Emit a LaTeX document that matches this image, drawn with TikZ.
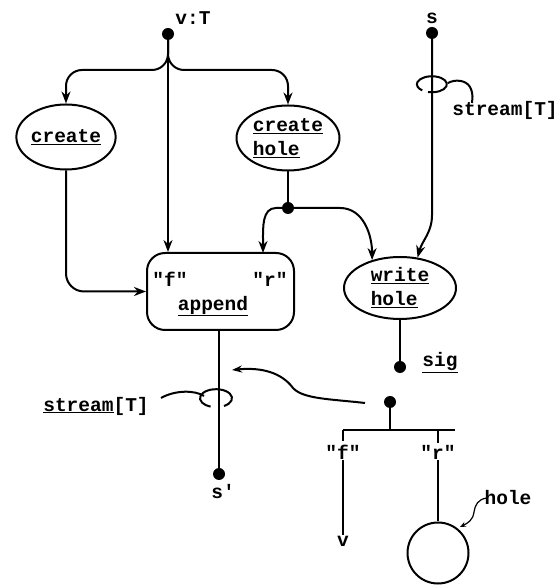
\documentclass[tikz,border=0pt]{standalone}
\usepackage{fontspec}
\setmonofont{Liberation Mono}
\usetikzlibrary{shapes.geometric,arrows.meta,calc}
\begin{document}
\begin{tikzpicture}[x=1pt,y=1pt,
  every node/.style={font=\fontsize{19.5}{24}\selectfont\ttfamily\bfseries},
  ln/.style={line width=2pt},
  arr/.style={ln,-{Stealth[length=12pt,width=9pt]}},
  dot/.style={circle,fill,inner sep=0pt,minimum size=12pt},
  oval/.style={ellipse,draw,line width=2pt,inner sep=0pt},
  txt/.style={inner sep=1pt}
]
\useasboundingbox (0,0) rectangle (557,585);
% nodes
\node[dot] (vdot) at (168,551) {};
\node[txt] (vlab) at (193,567) {v:T};
\node[oval,minimum width=96pt,minimum height=65pt] (create) at (66,448) {\underline{create}};
\node[oval,minimum width=103pt,minimum height=65pt,align=left] (chole) at (288,447) {\underline{create}\\\underline{hole}};
\node[draw,ln,rounded corners=18pt,minimum width=147pt,minimum height=77pt] (append) at (220.5,293.5) {};
\node[txt] (af) at (170,306) {"f"};
\node[txt] (ar) at (270,306) {"r"};
\node[txt] (aname) at (213,279) {\underline{append}};
\node[dot] (jdot) at (288,377) {};
\node[dot] (sdot) at (432,552) {};
\node[txt] (slab) at (432,567) {s};
\node[oval,minimum width=112pt,minimum height=62pt,align=left] (whole) at (400,297) {\underline{write}\\\underline{hole}};
\node[dot] (sigdot) at (400,218) {};
\node[txt] (siglab) at (440,222) {\underline{sig}};
\node[dot] (spdot) at (219,111) {};
\node[txt] (splab) at (223,93) {s'};
\node[txt] (st1) at (505,475) {stream[T]};
\node[txt] (st2) at (96,179) {\underline{stream}[T]};
\node[dot] (hdot) at (390,183) {};
\node[txt] (hf) at (343,133) {"f"};
\node[txt] (hr) at (438,133) {"r"};
\node[txt] (hv) at (343,44) {v};
\node[circle,draw,ln,minimum size=61pt,inner sep=0pt] (hole) at (438,32) {};
\node[txt] (holelab) at (508,87) {hole};
% coordinates
\coordinate (bar) at (390,155);
\coordinate (barL) at (343,155);
\coordinate (barR) at (455,155);
\coordinate (loop1) at (432,500);
\coordinate (loop2) at (219,185);
% connectors from v
\draw[arr,rounded corners=16pt] (vdot.south) -- (168,515) -- (66,515) -- (create.north);
\draw[arr,rounded corners=16pt] (vdot.south) -- (168,515) -- (288,515) -- (chole.north);
\draw[arr] (vdot.south) -- (vdot |- append.north);
\draw[arr,rounded corners=18pt] (create.south) |- (append.west);
% create hole
\draw[ln] (chole.south) -- (jdot);
\draw[arr] (jdot.west) -- (276,377) to[out=180,in=90] (263,344) -- (263,332);
\draw[arr] (jdot.east) -- (340,377) to[out=0,in=90] (whole.135);
% s
\draw[arr] (sdot.south) -- (432,370) to[out=-90,in=75] (whole.60);
\draw[ln] ($(loop1)+(-4,-7)$) arc[start angle=-105,end angle=230,x radius=15,y radius=8];
\draw[ln] ($(loop1)+(16,2)$) .. controls (455,506) and (466,505) .. (470,498) .. controls (474,490) and (472,486) .. (472,482);
% write hole
\draw[ln] (whole.south) -- (sigdot);
% append out
\draw[ln] (append.south -| spdot) -- (spdot);
\draw[ln] ($(loop2)+(5,-6)$) arc[start angle=-60,end angle=250,x radius=16,y radius=9];
\draw[ln] ($(loop2)+(-15,4)$) .. controls (195,195) and (175,195) .. (161,187);
% wavy arrow
\draw[ln,-{Stealth[length=10pt,width=7pt]}] (365,182) .. controls (330,186) and (303,186) .. (293,197) .. controls (282,212) and (262,218) .. (232,215);
% hole structure
\draw[ln] (hdot.south) -- (bar);
\draw[ln] (barL) -- (barR);
\draw[ln] (barL) -- (343,144);
\draw[ln] (438,155) -- (438,142);
\draw[ln] (hf.south) -- (hv.north);
\draw[ln] (hr.south) -- (hole.north);
\draw[line width=1.2pt,-{Stealth[open,length=6pt,width=5pt]}] (487,87) .. controls (478,86) and (475,80) .. (474,73) .. controls (473,65) and (468,62) .. (460,58);
\end{tikzpicture}
\end{document}
